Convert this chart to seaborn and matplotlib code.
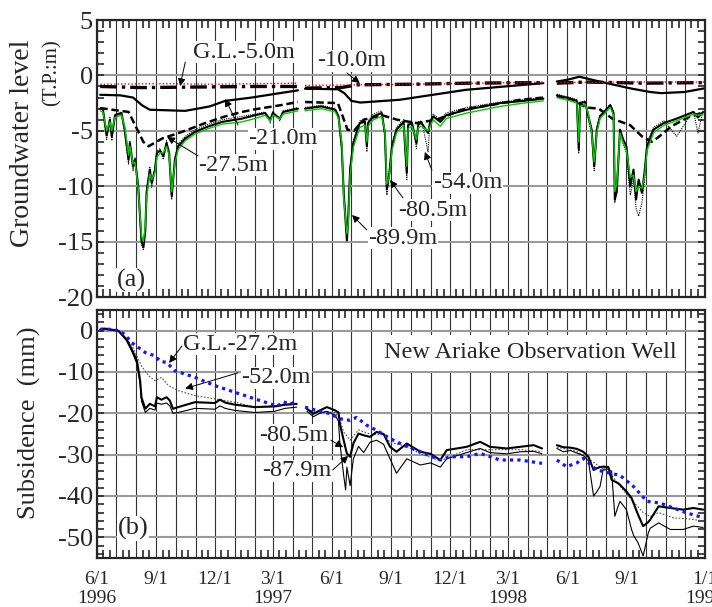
import numpy as np
import pandas as pd
import matplotlib
matplotlib.use("Agg")
import matplotlib.pyplot as plt
import matplotlib.dates as mdates
from matplotlib.ticker import MultipleLocator, FuncFormatter
import seaborn as sns

sns.set_theme(style="ticks")
plt.rcParams["font.family"] = ["Liberation Serif", "DejaVu Serif"]
plt.rcParams["axes.unicode_minus"] = False

# ---------------- panel (a): groundwater level (T.P. m) ----------------
# every series is split in three records (gaps in April 1997 and May 1998)
d5 = [["1996-06-06", "1996-09-01", "1996-12-01", "1997-04-09"],
      ["1997-04-20", "1997-08-01", "1997-12-01", "1998-04-25"],
      ["1998-05-16", "1998-09-01", "1998-12-31"]]
gl_5 = [[-0.8, -0.75, -0.8, -0.7],
        [-0.9, -0.85, -0.75, -0.6],
        [-0.65, -0.6, -0.6]]

d10 = [["1996-06-06", "1996-08-10", "1996-11-01", "1997-02-01", "1997-04-09"],
       ["1997-04-20", "1997-06-15", "1997-07-10", "1997-10-01", "1998-01-01", "1998-04-25"],
       ["1998-05-16", "1998-07-01", "1998-10-01", "1998-12-31"]]
gl_10 = [[-1.0, -1.1, -1.05, -1.0, -1.0],
         [-1.15, -1.1, -0.85, -0.8, -0.7, -0.65],
         [-0.7, -0.6, -0.7, -0.65]]

d21 = [["1996-06-06", "1996-07-07", "1996-07-27", "1996-08-10", "1996-08-22", "1996-10-16",
        "1996-11-23", "1996-12-17", "1997-01-27", "1997-03-01", "1997-04-09"],
       ["1997-04-20", "1997-06-10", "1997-06-20", "1997-07-01", "1997-07-15", "1997-09-14",
        "1997-12-26", "1998-04-25"],
       ["1998-05-16", "1998-06-01", "1998-06-20", "1998-07-21", "1998-09-07", "1998-10-08",
        "1998-10-25", "1998-11-30", "1998-12-31"]]
gl_21 = [[-1.75, -1.8, -2.0, -2.7, -3.1, -3.2, -2.8, -2.3, -2.0, -1.7, -1.35],
         [-1.2, -1.25, -1.6, -2.3, -2.45, -2.2, -1.3, -0.7],
         [-0.55, -0.4, -0.12, -0.55, -1.17, -1.5, -1.6, -1.5, -1.17]]

d275 = [["1996-06-06", "1996-07-20", "1996-08-12", "1996-08-20", "1996-09-10", "1996-10-11",
         "1996-11-16", "1996-12-17", "1997-01-12", "1997-02-01", "1997-03-12", "1997-04-09"],
        ["1997-04-20", "1997-06-10", "1997-06-25", "1997-07-05", "1997-07-20", "1997-08-18",
         "1997-09-10", "1997-10-10", "1997-11-10", "1997-12-20", "1998-02-10", "1998-03-20",
         "1998-04-25"],
        ["1998-05-16", "1998-06-10", "1998-07-01", "1998-07-20", "1998-08-10", "1998-09-07",
         "1998-09-25", "1998-10-10", "1998-10-20", "1998-11-10", "1998-12-05", "1998-12-31"]]
gl_275 = [[-2.95, -3.3, -6.0, -6.4, -5.7, -5.1, -4.3, -3.7, -3.3, -3.06, -2.7, -2.4],
          [-2.4, -2.5, -4.9, -5.0, -4.0, -3.6, -4.0, -4.3, -4.0, -3.1, -2.6, -2.2, -2.0],
          [-1.9, -2.2, -2.9, -3.0, -3.9, -4.5, -5.5, -6.0, -5.6, -4.6, -3.8, -3.3]]

deep_dates = [
    ["1996-06-06", "1996-06-10", "1996-06-16", "1996-06-21", "1996-06-24", "1996-06-29",
     "1996-07-09", "1996-07-14", "1996-07-20", "1996-07-22", "1996-07-27", "1996-07-30",
     "1996-08-04", "1996-08-09", "1996-08-12", "1996-08-15", "1996-08-17", "1996-08-22",
     "1996-08-25", "1996-08-30", "1996-09-02", "1996-09-07", "1996-09-12", "1996-09-17",
     "1996-09-21", "1996-09-25", "1996-09-30", "1996-10-05", "1996-10-16", "1996-10-31",
     "1996-11-21", "1996-12-12", "1997-01-12", "1997-02-01", "1997-02-17", "1997-02-25",
     "1997-03-01", "1997-03-12", "1997-03-17", "1997-04-09"],
    ["1997-04-20", "1997-05-15", "1997-06-06", "1997-06-11", "1997-06-16", "1997-06-19",
     "1997-06-24", "1997-06-26", "1997-06-29", "1997-07-04", "1997-07-14", "1997-07-22",
     "1997-07-25", "1997-07-27", "1997-08-04", "1997-08-17", "1997-08-22", "1997-08-25",
     "1997-08-29", "1997-09-02", "1997-09-09", "1997-09-20", "1997-09-22", "1997-09-25",
     "1997-09-27", "1997-10-03", "1997-10-10", "1997-10-13", "1997-10-18", "1997-10-28",
     "1997-10-31", "1997-11-05", "1997-11-16", "1997-11-25", "1997-12-27", "1998-02-17",
     "1998-03-25", "1998-04-25"],
    ["1998-05-16", "1998-06-06", "1998-06-16", "1998-06-19", "1998-06-21", "1998-06-29",
     "1998-07-04", "1998-07-09", "1998-07-13", "1998-07-17", "1998-07-22", "1998-08-02",
     "1998-08-07", "1998-08-12", "1998-08-14", "1998-08-17", "1998-08-22", "1998-08-27",
     "1998-09-01", "1998-09-07", "1998-09-12", "1998-09-16", "1998-09-20", "1998-09-25",
     "1998-09-29", "1998-10-03", "1998-10-13", "1998-10-29", "1998-11-18", "1998-12-14",
     "1998-12-21", "1998-12-29"]]
gl_54 = [
    [-2.9, -3.1, -5.8, -3.8, -5.9, -3.5, -3.3, -5.2, -8.0, -5.9, -8.6, -7.4, -10.4, -15.2,
     -15.8, -14.3, -10.2, -8.3, -10.1, -8.3, -6.8, -6.6, -7.6, -5.9, -7.3, -11.2, -7.4, -6.2,
     -5.5, -4.9, -4.4, -4.0, -3.7, -3.5, -3.3, -4.3, -3.2, -4.1, -3.2, -2.9],
    [-2.9, -2.7, -3.0, -3.9, -6.8, -10.2, -14.6, -12.6, -8.2, -5.9, -4.1, -4.0, -6.9, -4.1,
     -3.5, -3.2, -5.6, -10.8, -8.5, -6.2, -4.7, -4.0, -6.5, -9.4, -4.3, -4.1, -6.6, -4.2,
     -4.1, -6.9, -4.1, -3.5, -4.0, -3.4, -2.9, -2.4, -2.2, -2.0],
    [-1.7, -2.0, -2.2, -7.0, -2.4, -2.3, -4.0, -5.3, -8.6, -4.7, -3.6, -2.9, -2.6, -3.3,
     -11.5, -9.8, -5.1, -6.2, -7.0, -10.8, -9.4, -12.0, -12.7, -11.5, -9.6, -6.0, -4.7,
     -4.1, -5.5, -3.2, -5.2, -3.2]]
gl_805 = [
    [-3.0, -3.0, -5.4, -4.0, -5.5, -3.6, -3.4, -4.9, -7.6, -6.1, -8.2, -7.6, -10.0, -14.9,
     -15.5, -14.0, -10.6, -8.5, -9.7, -8.5, -7.0, -6.8, -7.3, -6.1, -7.0, -10.9, -7.6, -6.4,
     -5.7, -5.1, -4.6, -4.2, -3.9, -3.6, -3.4, -4.0, -3.4, -3.9, -3.3, -3.0],
    [-3.0, -2.8, -3.1, -3.7, -6.4, -10.6, -14.9, -13.0, -8.5, -6.1, -4.3, -4.2, -6.4, -4.3,
     -3.7, -3.4, -5.2, -10.3, -8.8, -6.4, -4.9, -4.2, -6.1, -8.8, -4.5, -4.3, -6.1, -4.4,
     -4.3, -5.2, -4.3, -3.7, -4.2, -3.6, -3.1, -2.5, -2.3, -2.1],
    [-1.8, -2.1, -2.3, -6.7, -2.5, -2.4, -3.7, -4.9, -8.2, -4.9, -3.7, -3.0, -2.7, -3.4,
     -11.2, -10.5, -4.9, -5.8, -6.4, -10.0, -8.5, -11.2, -9.4, -10.6, -8.8, -6.4, -4.9,
     -4.3, -3.9, -3.3, -3.8, -3.3]]
gl_899 = [
    [-3.2, -3.3, -5.0, -4.2, -5.0, -3.8, -3.6, -4.6, -7.2, -6.4, -8.0, -7.8, -10.2, -14.5,
     -15.0, -13.6, -11.0, -8.9, -9.4, -8.8, -7.4, -7.0, -7.0, -6.4, -7.2, -10.5, -7.9, -6.7,
     -5.9, -5.3, -4.8, -4.4, -4.2, -3.9, -3.6, -4.1, -3.6, -3.9, -3.5, -3.2],
    [-3.2, -3.0, -3.3, -3.9, -6.0, -11.0, -14.3, -13.4, -9.0, -6.5, -4.7, -4.5, -6.0, -4.6,
     -4.0, -3.7, -5.0, -9.8, -9.0, -6.8, -5.2, -4.5, -5.8, -8.2, -4.8, -4.6, -5.8, -4.7,
     -4.6, -5.0, -4.6, -4.0, -4.6, -3.9, -3.4, -2.8, -2.5, -2.3],
    [-2.0, -2.3, -2.5, -6.0, -2.8, -2.6, -3.5, -5.2, -7.8, -5.2, -3.9, -3.2, -2.9, -3.6,
     -10.5, -9.8, -5.2, -6.1, -6.8, -9.2, -9.0, -10.5, -10.0, -10.2, -9.2, -6.8, -5.2,
     -4.5, -4.1, -3.5, -3.6, -3.5]]

# ---------------- panel (b): subsidence (mm) ----------------
d272 = [["1996-06-06", "1996-06-13", "1996-07-04", "1996-07-14", "1996-07-25", "1996-08-15",
         "1996-08-30", "1996-09-07", "1996-09-17", "1996-09-30", "1996-10-31", "1996-12-01",
         "1997-01-01", "1997-02-01", "1997-02-25", "1997-03-08", "1997-03-17", "1997-03-28",
         "1997-04-07"],
        ["1997-04-20", "1997-05-08", "1997-05-29", "1997-06-13", "1997-06-29", "1997-07-09",
         "1997-07-25", "1997-08-09", "1997-08-30", "1997-09-20", "1997-10-16", "1997-11-16",
         "1997-12-01", "1997-12-27", "1998-01-17", "1998-02-17", "1998-03-20", "1998-04-23"],
        ["1998-05-16", "1998-05-31", "1998-06-16", "1998-06-26", "1998-07-17", "1998-08-07",
         "1998-08-22", "1998-09-12", "1998-10-03", "1998-10-23", "1998-11-13", "1998-12-04",
         "1998-12-30"]]
sub_272 = [[0.3, 0.5, 0.0, -0.9, -2.9, -5.3, -6.1, -7.4, -7.7, -9.7, -11.3, -13.3, -14.9,
            -16.5, -17.7, -18.3, -17.2, -17.8, -17.0],
           [-18.5, -19.3, -20.1, -21.3, -21.7, -21.0, -22.9, -24.1, -26.1, -27.7, -29.3,
            -31.3, -30.5, -30.5, -29.7, -31.3, -31.3, -32.1],
           [-31.3, -32.9, -32.0, -30.9, -33.7, -34.5, -35.0, -37.7, -41.3, -41.7, -42.9,
            -44.1, -45.3]]

d520 = [["1996-06-06", "1996-07-04", "1996-07-25", "1996-08-09", "1996-08-20", "1996-08-30",
         "1996-09-09", "1996-09-20", "1996-10-05", "1996-10-31", "1996-12-01", "1997-01-01",
         "1997-02-01", "1997-03-04", "1997-03-20", "1997-04-07"],
        ["1997-04-23", "1997-05-13", "1997-06-06", "1997-06-13", "1997-06-19", "1997-06-29",
         "1997-07-12", "1997-07-30", "1997-08-20", "1997-08-30", "1997-09-25", "1997-10-16",
         "1997-11-16", "1997-12-27", "1998-02-01", "1998-03-20", "1998-04-23"],
        ["1998-05-16", "1998-06-16", "1998-07-04", "1998-07-27", "1998-08-09", "1998-09-01",
         "1998-09-27", "1998-10-08", "1998-10-21", "1998-11-13", "1998-12-04", "1998-12-29"]]
sub_520 = [[0.3, 0.0, -3.5, -8.5, -10.9, -12.1, -11.3, -13.3, -14.5, -15.7, -16.5, -17.3,
            -18.5, -18.5, -18.0, -17.9],
           [-19.2, -19.6, -19.8, -21.5, -24.5, -26.5, -24.0, -25.0, -25.2, -27.0, -28.0,
            -29.8, -31.5, -28.8, -28.8, -28.8, -29.2],
           [-28.2, -29.2, -31.0, -33.5, -35.0, -39.5, -44.0, -45.0, -44.0, -45.3, -45.5, -46.0]]

sub_dates = [
    ["1996-06-06", "1996-06-13", "1996-07-04", "1996-07-17", "1996-07-25", "1996-08-02",
     "1996-08-07", "1996-08-09", "1996-08-15", "1996-08-22", "1996-08-30", "1996-09-02",
     "1996-09-09", "1996-09-17", "1996-09-22", "1996-09-27", "1996-10-05", "1996-10-31",
     "1996-12-01", "1996-12-09", "1996-12-17", "1997-01-01", "1997-02-01", "1997-03-04",
     "1997-03-20", "1997-04-07"],
    ["1997-04-23", "1997-05-03", "1997-05-13", "1997-05-24", "1997-06-06", "1997-06-11",
     "1997-06-13", "1997-06-19", "1997-06-22", "1997-06-24", "1997-06-29", "1997-07-04",
     "1997-07-12", "1997-07-20", "1997-07-30", "1997-08-09", "1997-08-20", "1997-08-30",
     "1997-09-09", "1997-09-25", "1997-10-16", "1997-11-01", "1997-11-16", "1997-11-26",
     "1997-12-27", "1998-01-17", "1998-02-01", "1998-02-27", "1998-03-20", "1998-04-10",
     "1998-04-23"],
    ["1998-05-16", "1998-05-26", "1998-06-06", "1998-06-16", "1998-06-26", "1998-07-04",
     "1998-07-12", "1998-07-17", "1998-07-22", "1998-07-27", "1998-08-04", "1998-08-09",
     "1998-08-14", "1998-08-19", "1998-08-22", "1998-09-01", "1998-09-09", "1998-09-12",
     "1998-09-19", "1998-09-27", "1998-10-05", "1998-10-08", "1998-10-21", "1998-11-08",
     "1998-11-28", "1998-12-14", "1998-12-29"]]
sub_805 = [
    [0.3, 0.5, 0.0, -2.1, -4.5, -7.3, -12.1, -16.1, -18.9, -17.7, -18.3, -16.1, -16.7, -16.1,
     -16.9, -18.9, -18.5, -17.3, -17.5, -16.7, -17.4, -17.9, -18.5, -18.3, -17.9, -17.7],
    [-18.9, -20.1, -19.3, -18.5, -19.3, -19.8, -22.5, -26.5, -28.5, -29.7, -30.5, -27.3,
     -24.9, -25.3, -25.7, -24.5, -25.0, -28.1, -29.3, -27.3, -29.3, -29.8, -31.3, -28.9,
     -28.1, -26.9, -28.1, -28.5, -28.1, -27.7, -28.5],
    [-27.7, -28.2, -28.3, -28.6, -29.3, -30.5, -33.7, -33.3, -33.0, -32.9, -33.0, -36.1,
     -36.5, -36.9, -37.3, -38.9, -40.5, -41.7, -44.5, -47.3, -46.3, -45.7, -42.5, -42.9,
     -43.3, -42.9, -43.3]]
sub_879 = [
    [0.3, 0.5, 0.0, -2.5, -5.0, -8.0, -13.0, -17.0, -19.8, -18.8, -19.2, -17.5, -17.8, -17.5,
     -18.2, -20.0, -19.8, -18.8, -19.0, -18.2, -18.8, -19.3, -19.8, -19.5, -18.8, -18.5],
    [-19.5, -20.8, -20.0, -19.5, -20.5, -22.0, -27.0, -35.0, -38.5, -33.0, -37.5, -31.0,
     -28.0, -29.5, -27.0, -26.5, -27.5, -31.0, -34.5, -31.0, -32.5, -32.0, -33.0, -31.0,
     -29.5, -28.5, -29.5, -29.8, -29.3, -29.2, -29.8],
    [-28.5, -29.3, -29.0, -29.6, -30.2, -31.5, -40.0, -39.0, -37.7, -33.5, -33.5, -34.0,
     -44.9, -42.5, -41.3, -43.3, -48.1, -49.5, -51.3, -54.5, -48.9, -47.8, -46.5, -48.1,
     -48.1, -47.3, -47.6]]

# x tick labels (only on the lower panel)
xlabels = {(1996, 6): "6/1\n1996", (1996, 9): "9/1", (1996, 12): "12/1",
           (1997, 3): "3/1\n1997", (1997, 6): "6/1", (1997, 9): "9/1", (1997, 12): "12/1",
           (1998, 3): "3/1\n1998", (1998, 6): "6/1", (1998, 9): "9/1", (1999, 1): "1/1\n1999"}


def frame(dates, vals):
    rows = [(pd.Timestamp(d), v, i)
            for i, (ds, vs) in enumerate(zip(dates, vals))
            for d, v in zip(ds, vs)]
    return pd.DataFrame(rows, columns=["date", "val", "seg"])


def draw(ax, dates, vals, **kw):
    sns.lineplot(data=frame(dates, vals), x="date", y="val", units="seg",
                 estimator=None, sort=True, ax=ax, legend=False, **kw)


def dn(s):
    return mdates.date2num(pd.Timestamp(s))


def label(ax, text, pos, tail=None, head=None, fs=17.5, pad=0.6):
    ax.text(dn(pos[0]), pos[1], text, ha="center", va="center", fontsize=fs,
            bbox=dict(fc="white", ec="none", pad=pad), zorder=6)
    if head is not None:
        ax.annotate("", xy=(dn(head[0]), head[1]), xytext=(dn(tail[0]), tail[1]),
                    arrowprops=dict(arrowstyle="-|>", color="black", lw=0.7,
                                    mutation_scale=11, shrinkA=0, shrinkB=0),
                    zorder=7)


fig = plt.figure(figsize=(7.12, 6.07), dpi=100)
ax1 = fig.add_axes([97 / 712, 1 - 297 / 607, 608 / 712, 277 / 607])
ax2 = fig.add_axes([97 / 712, 1 - 558 / 607, 608 / 712, 248 / 607])

# panel (a)
draw(ax1, d275, gl_275, color="black", linewidth=1.8, linestyle=(0, (3, 1.5)))
draw(ax1, d21, gl_21, color="black", linewidth=1.6)
draw(ax1, d10, gl_10, color="black", linewidth=2.4, linestyle=(0, (5, 1.5, 1, 1.5)))
draw(ax1, deep_dates, gl_54, color="black", linewidth=0.8, linestyle=(0, (1, 1)))
draw(ax1, deep_dates, gl_805, color="black", linewidth=1.5)
draw(ax1, deep_dates, gl_899, color="#00cc00", linewidth=1.0)
draw(ax1, d5, gl_5, color="red", linewidth=1.0, linestyle=(0, (1, 1.5)))

# panel (b)
draw(ax2, d520, sub_520, color="#555555", linewidth=0.8, linestyle=(0, (1.5, 1.5)))
draw(ax2, sub_dates, sub_879, color="black", linewidth=0.8)
draw(ax2, sub_dates, sub_805, color="black", linewidth=1.5)
draw(ax2, d272, sub_272, color="#1414ff", linewidth=2.3, linestyle=(0, (1.0, 1.3)))

for ax in (ax1, ax2):
    ax.set_xlim(pd.Timestamp("1996-06-01"), pd.Timestamp("1999-01-01"))
    ax.xaxis.set_major_locator(mdates.MonthLocator())
    ax.xaxis.set_minor_locator(mdates.DayLocator(bymonthday=[11, 21]))
    ax.grid(axis="x", which="major", color="#333333", linewidth=0.8)
    ax.grid(axis="y", which="major", color="#9a9a9a", linewidth=1.5)
    ax.set_axisbelow(True)
    ax.tick_params(which="both", direction="in", top=True, right=True)
    ax.tick_params(axis="x", which="major", length=0, pad=9, labelsize=14)
    ax.tick_params(axis="x", which="minor", length=6, width=1.2)
    ax.tick_params(axis="y", which="both", length=5, width=1.2, pad=3, labelsize=19)
    for s in ax.spines.values():
        s.set_linewidth(1.6)
    ax.set_xlabel("")
    ax.set_ylabel("")

ax1.set_ylim(-20, 5)
ax1.yaxis.set_major_locator(MultipleLocator(5))
ax1.yaxis.set_minor_locator(MultipleLocator(1))
ax1.tick_params(axis="x", labelbottom=False)

ax2.set_ylim(-55, 5)
ax2.yaxis.set_major_locator(MultipleLocator(10))
ax2.yaxis.set_minor_locator(MultipleLocator(2))
ax2.xaxis.set_major_formatter(FuncFormatter(
    lambda v, p: xlabels.get((mdates.num2date(v).year, mdates.num2date(v).month), "")))

# annotations panel (a)
label(ax1, "G.L.-5.0m", ("1997-01-15", 2.1), ("1996-10-16", 1.2), ("1996-10-08", -0.96))
label(ax1, "-10.0m", ("1997-07-02", 1.3), ("1997-06-24", 0.22), ("1997-07-14", -0.7))
label(ax1, "-21.0m", ("1997-03-17", -5.74), ("1997-01-06", -4.48), ("1996-12-17", -2.13))
label(ax1, "-27.5m", ("1996-12-29", -8.09), ("1996-11-05", -7.27), ("1996-09-18", -5.56))
label(ax1, "-54.0m", ("1997-12-28", -9.71), ("1997-11-03", -8.54), ("1997-10-23", -6.91))
label(ax1, "-80.5m", ("1997-11-05", -12.15), ("1997-09-19", -11.06), ("1997-08-30", -9.44))
label(ax1, "-89.9m", ("1997-09-19", -14.68), ("1997-07-25", -13.95), ("1997-07-02", -12.6))
label(ax1, "(a)", ("1996-07-25", -18.47), fs=19)

# annotations panel (b)
label(ax2, "G.L.-27.2m", ("1997-01-09", -3.24), ("1996-10-11", -3.7), ("1996-09-21", -7.8))
label(ax2, "-52.0m", ("1997-03-06", -11.4), ("1997-01-06", -10.2), ("1996-10-16", -14.0))
label(ax2, "-80.5m", ("1997-04-03", -25.3), ("1997-05-30", -26.5), ("1997-06-18", -28.2))
label(ax2, "-87.9m", ("1997-04-08", -33.9), ("1997-06-02", -33.7), ("1997-06-26", -30.3))
label(ax2, "New Ariake Observation Well", ("1998-04-04", -5.4), fs=17.5, pad=5)
label(ax2, "(b)", ("1996-07-27", -47.8), fs=19)

fig.text(23 / 712, 1 - 143 / 607, "Groundwater level", rotation=90,
         ha="center", va="center", fontsize=20)
fig.text(52 / 712, 1 - 73 / 607, "(T.P.:m)", rotation=90,
         ha="center", va="center", fontsize=15)
fig.text(29 / 712, 1 - 423 / 607, "Subsidence  (mm)", rotation=90,
         ha="center", va="center", fontsize=19)

fig.savefig("out.png", dpi=100)
